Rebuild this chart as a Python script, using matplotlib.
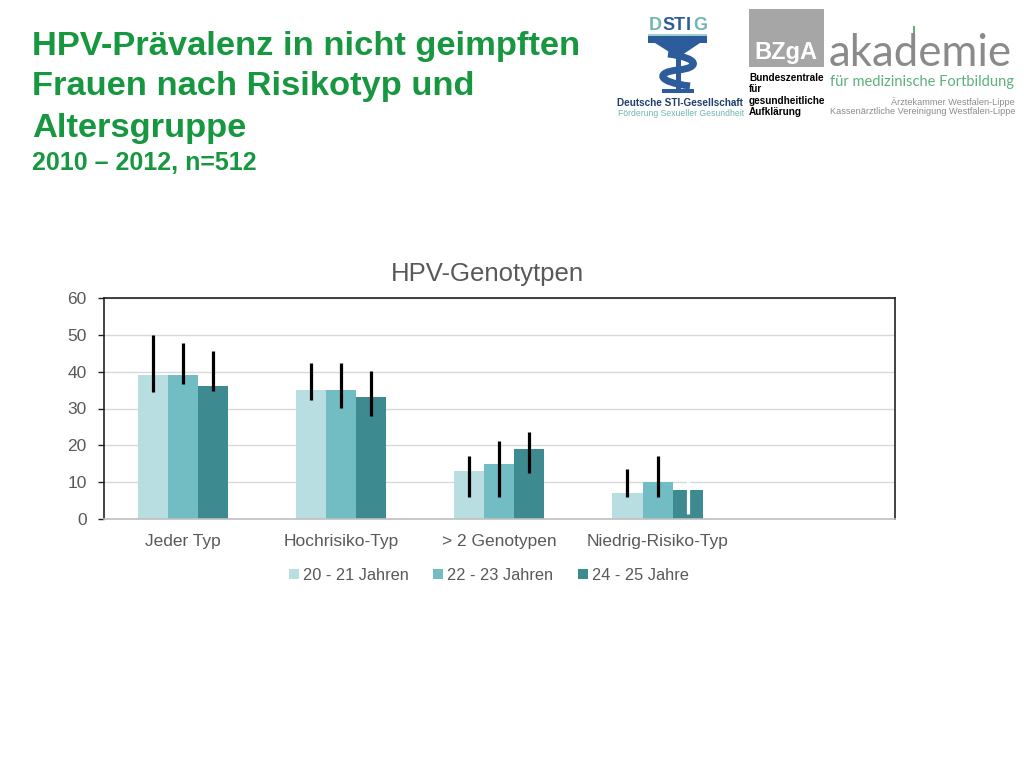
import matplotlib
matplotlib.use("Agg")
import matplotlib.pyplot as plt
import numpy as np
from matplotlib.patches import Rectangle, Polygon, PathPatch
from matplotlib.path import Path

categories = ["Jeder Typ", "Hochrisiko-Typ", "> 2 Genotypen", "Niedrig-Risiko-Typ"]
series_names = ["20 - 21 Jahren", "22 - 23 Jahren", "24 - 25 Jahre"]
val_20_21 = [39, 35, 13, 7]
val_22_23 = [39, 35, 15, 10]
val_24_25 = [36, 33, 19, 8]
low_20_21 = [34.5, 32.4, 6.0, 6.0]
high_20_21 = [49.9, 42.3, 17.1, 13.6]
low_22_23 = [36.7, 30.2, 6.0, 6.0]
high_22_23 = [47.7, 42.3, 21.3, 17.0]
low_24_25 = [34.7, 28.0, 12.6, 1.3]
high_24_25 = [45.6, 40.1, 23.6, 13.8]
y_ticks = [0, 10, 20, 30, 40, 50, 60]

colors = ["#B8DEE2", "#72BDC4", "#3D8B90"]
err_colors = [["black"] * 4, ["black"] * 4, ["black", "black", "black", "white"]]

plt.rcParams['font.family'] = ['Liberation Sans', 'DejaVu Sans']
fig = plt.figure(figsize=(10.24, 7.68), dpi=100)
fig.patch.set_facecolor("white")

ax = fig.add_axes([103.5/1024, 1-519/768, 791.5/1024, 221/768])
x = np.arange(len(categories))
w = 0.19
vals = [val_20_21, val_22_23, val_24_25]
lows = [low_20_21, low_22_23, low_24_25]
highs = [high_20_21, high_22_23, high_24_25]
for i in range(3):
    xs = x + (i - 1) * w
    ax.bar(xs, vals[i], width=w, color=colors[i], label=series_names[i], zorder=2)
    for j in range(len(categories)):
        ax.vlines(xs[j], lows[i][j], highs[i][j], color=err_colors[i][j],
                  linewidth=2.3, zorder=3)

ax.set_xlim(-0.5, 4.5)
ax.set_ylim(0, 60)
ax.set_yticks(y_ticks)
ax.set_xticks(x)
ax.set_xticklabels(categories)
ax.tick_params(axis='x', length=0, pad=11, labelsize=12.5, colors="#595959")
ax.tick_params(axis='y', length=4, width=1, labelsize=12.5, colors="#595959", pad=8)
ax.tick_params(axis='y', color="#222222")
ax.grid(axis='y', color="#D9D9D9", linewidth=1, zorder=0)
ax.set_axisbelow(True)
for s in ["top", "right", "left"]:
    ax.spines[s].set_color("#222222")
    ax.spines[s].set_linewidth(1.2)
ax.spines["bottom"].set_color("#BFBFBF")
ax.spines["bottom"].set_linewidth(1.2)

ax.set_title("HPV-Genotytpen", fontsize=18.5, color="#595959", pad=12, x=0.485)

leg = ax.legend(loc="upper center", bbox_to_anchor=(0.487, -0.155), ncol=3,
                frameon=False, fontsize=11.8, handlelength=0.6, handleheight=0.6,
                handletextpad=0.25, columnspacing=1.5, labelcolor="#595959")

# Slide title
green = "#17973F"
fig.text(32/1024, 1-47/768, "HPV-Prävalenz in nicht geimpften", fontsize=24.8,
         fontweight="bold", color=green, va="center", ha="left")
fig.text(32/1024, 1-87/768, "Frauen nach Risikotyp und", fontsize=24.8,
         fontweight="bold", color=green, va="center", ha="left")
fig.text(32/1024, 1-128/768, "Altersgruppe", fontsize=24.8,
         fontweight="bold", color=green, va="center", ha="left")
fig.text(32/1024, 1-163/768, "2010 \u2013 2012, n=512", fontsize=18,
         fontweight="bold", color=green, va="center", ha="left")

# Logos (decorative approximations)
def fx(px):
    return px / 1024
def fy(py):
    return 1 - py / 768

teal = "#6DB8B0"
blue = "#2C5C9B"
for lx, ch, col in [(649, "D", teal), (662, "S", blue), (674, "T", blue),
                    (686, "I", blue), (693, "G", teal)]:
    fig.text(fx(lx), fy(25), ch, fontsize=13, fontweight="bold", color=col, va="center")
# plate
fig.patches.append(Rectangle((fx(648), fy(43)), fx(59), 8/768, transform=fig.transFigure,
                             facecolor=blue, edgecolor="none"))
fig.patches.append(Rectangle((fx(648), fy(36)), fx(59), 2/768, transform=fig.transFigure,
                             facecolor="#9FD0CB", edgecolor="none"))
fig.patches.append(Polygon([(fx(655), fy(43)), (fx(700), fy(43)), (fx(682), fy(55)),
                            (fx(674), fy(55))], closed=True, transform=fig.transFigure,
                           facecolor=blue, edgecolor="none"))
fig.patches.append(Rectangle((fx(675.5), fy(90)), fx(5), 35/768, transform=fig.transFigure,
                             facecolor=blue, edgecolor="none"))
snake = Path([(fx(668), fy(54)), (fx(700), fy(58)), (fx(700), fy(68)), (fx(678), fy(70)),
              (fx(656), fy(72)), (fx(656), fy(82)), (fx(690), fy(86))],
             [Path.MOVETO, Path.CURVE4, Path.CURVE4, Path.CURVE4,
              Path.CURVE4, Path.CURVE4, Path.CURVE4])
fig.patches.append(PathPatch(snake, transform=fig.transFigure, facecolor="none",
                             edgecolor=blue, linewidth=5))
fig.patches.append(Rectangle((fx(662), fy(93)), fx(32), 4/768, transform=fig.transFigure,
                             facecolor=blue, edgecolor="none"))
fig.text(fx(617), fy(103), "Deutsche STI-Gesellschaft", fontsize=7.2, fontweight="bold",
         color="#1F3E6B", va="center")
fig.text(fx(618), fy(113), "Förderung Sexueller Gesundheit", fontsize=6.2,
         color=teal, va="center")

fig.patches.append(Rectangle((fx(749), fy(67)), fx(75), 58/768, transform=fig.transFigure,
                             facecolor="#A6A6A6", edgecolor="none"))
fig.text(fx(786), fy(52), "BZgA", fontsize=17, fontweight="bold", color="white",
         va="center", ha="center")
for k, t in enumerate(["Bundeszentrale", "für", "gesundheitliche", "Aufklärung"]):
    fig.text(fx(749), fy(78 + k * 11.3), t, fontsize=7.2, fontweight="bold",
             color="black", va="center")

fig.text(fx(829), fy(53), "akademie", fontsize=31.5, color="#8A8A8A", va="center",
         ha="left", family=["Lato", "DejaVu Sans"])
fig.patches.append(Rectangle((fx(913), fy(46)), fx(2), 20/768, transform=fig.transFigure,
                             facecolor="#5DB07C", edgecolor="none"))
fig.text(fx(830), fy(82), "für medizinische Fortbildung", fontsize=10.5, color="#5DB07C",
         va="center", ha="left", family=["Lato", "DejaVu Sans"])
fig.text(fx(1015), fy(102), "Ärztekammer Westfalen-Lippe", fontsize=6.6, color="#8C8C8C",
         va="center", ha="right")
fig.text(fx(1015), fy(112), "Kassenärztliche Vereinigung Westfalen-Lippe", fontsize=6.6,
         color="#8C8C8C", va="center", ha="right")

fig.savefig("out.png", dpi=100, facecolor="white")
